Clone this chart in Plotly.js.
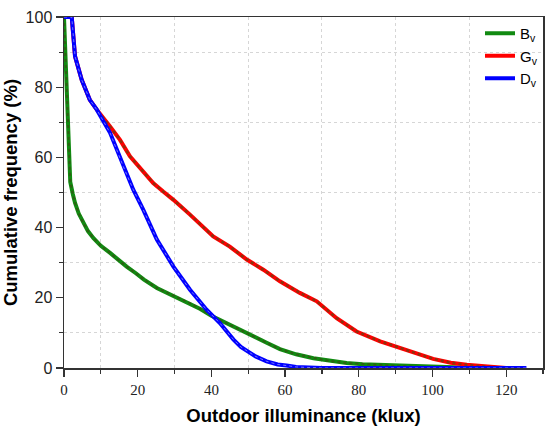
<!DOCTYPE html>
<html><head><meta charset="utf-8">
<script src="https://cdn.plot.ly/plotly-3.0.1.min.js"></script>
<style>html,body{margin:0;padding:0;background:#fff}#chart{width:550px;height:431px}</style>
</head><body><div id="chart"></div>
<script>
// Bv
const bvX = [0, 1.7, 2.4, 3, 4, 5.2, 6.5, 8, 10, 12.5, 15, 17, 19.5, 21.7, 25.2, 30, 34.2, 37, 40, 43, 46, 50, 55, 58.6, 63, 67.7, 72, 76.7, 81, 85.8, 91, 96, 100, 110, 120];
const bvY = [100, 53, 49.5, 47, 44, 41.3, 39, 37, 34.8, 32.8, 30.5, 28.9, 27, 25.2, 22.8, 20.4, 18.5, 16.8, 14.9, 13.3, 11.9, 9.8, 7.2, 5.4, 3.9, 2.8, 2.0, 1.4, 1.1, 0.9, 0.6, 0.35, 0.2, 0.05, 0];
// Gv
const gvX = [0, 2.1, 3, 4.8, 7, 8.9, 12.5, 15.2, 17.9, 21, 24.2, 27, 29.7, 34.2, 37.8, 40.5, 45, 49.6, 54.1, 58.6, 64, 68.6, 74, 79.4, 85.8, 90.3, 95.7, 100.2, 105, 109.3, 115, 120];
const gvY = [100, 100, 88.8, 82.1, 76.4, 73.6, 68.8, 65, 60.3, 56.5, 52.7, 50.2, 47.9, 43.7, 40.3, 37.5, 34.6, 30.9, 28, 24.7, 21.4, 19, 14.2, 10.4, 7.6, 6.0, 4.3, 2.6, 1.5, 0.9, 0.4, 0];
// Dv
const dvX = [0, 2.1, 3, 4.8, 7, 8.9, 12.5, 16.1, 18.8, 21.5, 25.2, 29.7, 34.2, 38.7, 42.3, 46, 48, 50.5, 52, 55, 58, 60.4, 63, 70, 80, 90, 100, 110, 120, 125.5];
const dvY = [100, 100, 88.8, 82.1, 76.4, 73.6, 67, 57.4, 50.8, 45.1, 36.6, 28.9, 22.3, 16.6, 12.8, 8.1, 6, 4.3, 3.3, 1.9, 1.0, 0.7, 0.3, 0, 0, 0, 0, 0, 0, 0];

const seriesNames = ['B<sub>v</sub>', 'G<sub>v</sub>', 'D<sub>v</sub>'];
const xTicks = [0, 20, 40, 60, 80, 100, 120];
const yTicks = [0, 20, 40, 60, 80, 100];

const traces = [
  {x: bvX, y: bvY, mode: 'lines', name: seriesNames[0], line: {color: '#118a11', width: 4}},
  {x: bvX, y: bvY, mode: 'lines', showlegend: false, hoverinfo: 'skip', line: {color: 'rgba(70,60,20,0.55)', width: 2, dash: 'dot'}},
  {x: gvX, y: gvY, mode: 'lines', name: seriesNames[1], line: {color: '#ff0000', width: 4}},
  {x: gvX, y: gvY, mode: 'lines', showlegend: false, hoverinfo: 'skip', line: {color: 'rgba(70,80,20,0.6)', width: 2.5, dash: 'dot'}},
  {x: dvX, y: dvY, mode: 'lines', name: seriesNames[2], line: {color: '#0000ff', width: 4}},
  {x: dvX, y: dvY, mode: 'lines', showlegend: false, hoverinfo: 'skip', line: {color: 'rgba(255,255,255,0.45)', width: 1, dash: 'dot'}}
];

const axisCommon = {
  showline: true, linecolor: '#333', linewidth: 1.5, mirror: true,
  ticks: 'outside', ticklen: 7, tickwidth: 1.2, tickcolor: '#333',
  showgrid: false, zeroline: false,
  minor: {tick0: 10, dtick: 20, ticks: 'outside', ticklen: 4, tickwidth: 1.2, tickcolor: '#333', showgrid: true, gridcolor: '#d6d6d6', griddash: 'dot', gridwidth: 1}
};

const layout = {
  width: 550, height: 431,
  margin: {l: 64, r: 7, t: 17, b: 63},
  paper_bgcolor: '#fff', plot_bgcolor: '#fff',
  showlegend: true,
  legend: {x: 1.0, xanchor: 'right', y: 1.0, yanchor: 'top', bgcolor: 'rgba(0,0,0,0)', font: {family: 'Liberation Sans, Arial', size: 15, color: '#000'}, tracegroupgap: 0, itemwidth: 30},
  xaxis: Object.assign({}, axisCommon, {
    range: [0, 130], tickvals: xTicks, ticktext: xTicks.map(String),
    tickfont: {family: 'Liberation Serif, Times New Roman', size: 15, color: '#222'},
    title: {text: '<b>Outdoor illuminance (klux)</b>', font: {family: 'Liberation Sans, Arial', size: 18.5, color: '#000'}, standoff: 12}
  }),
  yaxis: Object.assign({}, axisCommon, {
    range: [0, 100], tickvals: yTicks, ticktext: yTicks.map(String),
    tickfont: {family: 'Liberation Sans, Arial', size: 16, color: '#222'},
    title: {text: '<b>Cumulative frequency (%)</b>', font: {family: 'Liberation Sans, Arial', size: 18.5, color: '#000'}, standoff: 6}
  })
};

Plotly.newPlot('chart', traces, layout, {displayModeBar: false, staticPlot: true});
</script></body></html>
